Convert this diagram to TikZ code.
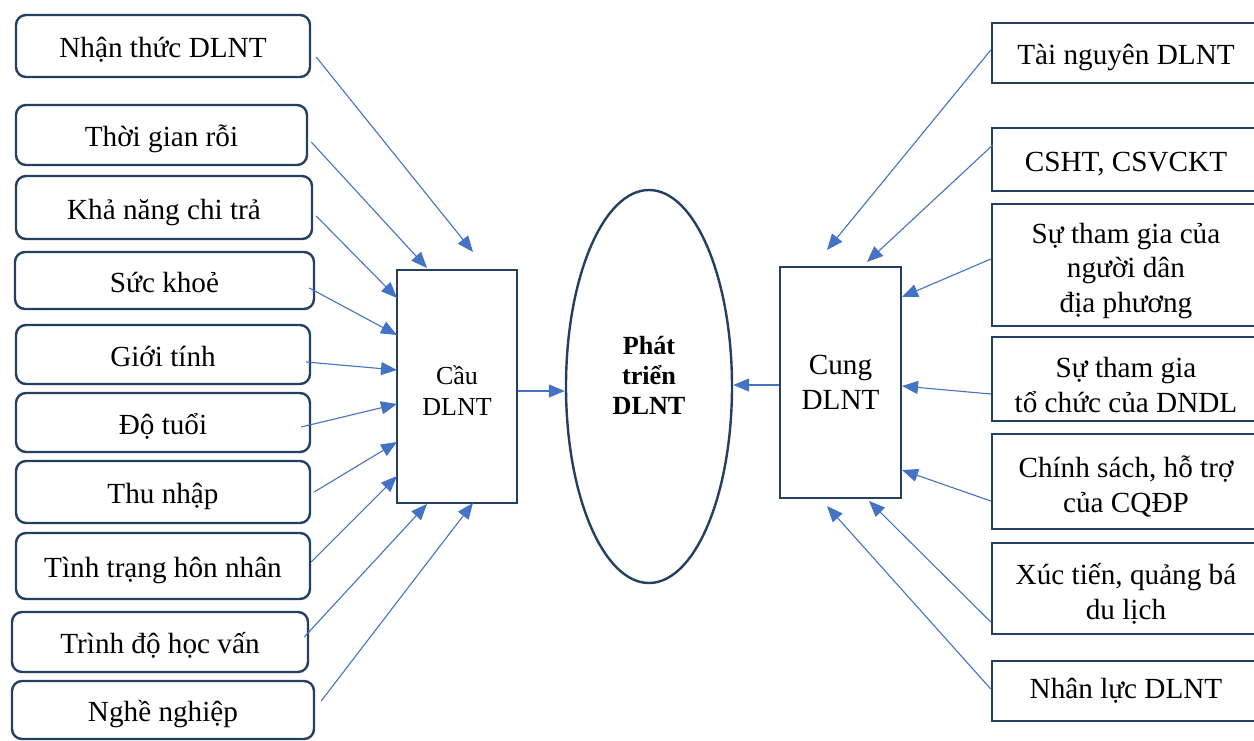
\documentclass[tikz,border=0pt]{standalone}
\usepackage{fontspec}
\setmainfont{LiberationSerif}[Extension=.ttf,UprightFont=*-Regular,BoldFont=*-Bold,ItalicFont=*-Italic,BoldItalicFont=*-BoldItalic]
\usetikzlibrary{arrows.meta,shapes.geometric,calc}
\definecolor{navy}{HTML}{243F60}
\definecolor{arr}{HTML}{4472C4}
\newcommand{\firstup}{\rule{0pt}{16pt}}
\begin{document}
\begin{tikzpicture}[x=0.5pt,y=-0.5pt,
  lbox/.style={draw=navy,line width=1.2pt,rounded corners=5pt,inner sep=0pt,font=\fontsize{14.6}{17.3}\selectfont,align=center,text height=12pt,text depth=0.5pt},
  rbox/.style={draw=navy,line width=1.2pt,inner sep=0pt,font=\fontsize{14.6}{17.3}\selectfont,align=center,minimum width=134pt},
  oneline/.style={text height=12pt,text depth=0.5pt},
  cbox/.style={draw=navy,line width=1.2pt,inner sep=0pt,align=center},
  conn/.style={draw=arr,line width=0.55pt,-{Triangle[length=8pt,width=6.5pt]}}]
\useasboundingbox (0,0) rectangle (1254,740);
\clip (0,0) rectangle (1254,740);
\fill[white] (0,0) rectangle (1254,740);

% left boxes
\node[lbox,minimum width=147pt,minimum height=31pt] (L1) at (163,46) {Nhận thức DLNT};
\node[lbox,minimum width=145.5pt,minimum height=30pt] (L2) at (161.5,135) {Thời gian rỗi};
\node[lbox,minimum width=148pt,minimum height=31.5pt] (L3) at (164,207.5) {Khả năng chi trả};
\node[lbox,minimum width=149.5pt,minimum height=28.5pt] (L4) at (164.5,280.5) {Sức khoẻ};
\node[lbox,minimum width=147pt,minimum height=29.5pt] (L5) at (163,354.5) {Giới tính};
\node[lbox,minimum width=147pt,minimum height=29.5pt] (L6) at (163,422.5) {Độ tuổi};
\node[lbox,minimum width=147pt,minimum height=31pt] (L7) at (163,492) {Thu nhập};
\node[lbox,minimum width=147pt,minimum height=33pt] (L8) at (163,566) {Tình trạng hôn nhân};
\node[lbox,minimum width=148pt,minimum height=30pt] (L9) at (160,642) {Trình độ học vấn};
\node[lbox,minimum width=151pt,minimum height=29pt] (L10) at (163,710) {Nghề nghiệp};

% right boxes
\node[rbox,oneline,minimum height=30pt] (R1) at (1126,53) {Tài nguyên DLNT};
\node[rbox,oneline,minimum height=31.5pt] (R2) at (1126,159.5) {CSHT, CSVCKT};
\node[rbox,minimum height=61pt] (R3) at (1126,265) {\firstup Sự tham gia của\\người dân\\địa phương};
\node[rbox,minimum height=42pt] (R4) at (1126,379) {\firstup Sự tham gia\\tổ chức của DNDL};
\node[rbox,minimum height=47.5pt] (R5) at (1126,481.5) {\firstup Chính sách, hỗ trợ\\của CQĐP};
\node[rbox,minimum height=45.5pt] (R6) at (1126,588.5) {\firstup Xúc tiến, quảng bá\\du lịch};
\node[rbox,minimum height=30pt] (R7) at (1126,691) {Nhân lực DLNT};

% centre
\node[cbox,minimum width=60pt,minimum height=116.5pt,font=\fontsize{13}{15.5}\selectfont] (cau) at (457,386.5) {\rule{0pt}{14pt}Cầu\\DLNT};
\node[cbox,minimum width=60.5pt,minimum height=115.5pt,font=\fontsize{14.6}{17.5}\selectfont] (cung) at (840.5,382.5) {Cung\\DLNT};
\node[draw=navy,line width=1.2pt,ellipse,inner sep=0pt,minimum width=83pt,minimum height=196.5pt] (dev) at (649,386.5) {};
\node[align=center,inner sep=0pt,font=\bfseries\fontsize{13.1}{15}\selectfont] (devtext) at (649,375) {Phát\\triển\\DLNT};

% tip coordinates near Cau
\coordinate (c1) at (473,252);
\coordinate (c2) at (427,268);
\coordinate (c3) at (397,298);
\coordinate (c4) at (397,335);
\coordinate (c5) at (397,370);
\coordinate (c6) at (397,404);
\coordinate (c7) at (397,442);
\coordinate (c8) at (397,476);
\coordinate (c9) at (427,504);
\coordinate (c10) at (473,503);
% tip coordinates near Cung
\coordinate (s1) at (827,250);
\coordinate (s2) at (867,262);
\coordinate (s3) at (902,297);
\coordinate (s4) at (902,386);
\coordinate (s5) at (902,470);
\coordinate (s6) at (869,501);
\coordinate (s7) at (827,506);

\draw[conn] ($(L1.east)+(5,11)$) -- (c1);
\draw[conn] ($(L2.east)+(3,7)$) -- (c2);
\draw[conn] ($(L3.east)+(3,8.5)$) -- (c3);
\draw[conn] ($(L4.east)+(-6,7.5)$) -- (c4);
\draw[conn] ($(L5.east)+(-5,7.5)$) -- (c5);
\draw[conn] ($(L6.east)+(-10,4.5)$) -- (c6);
\draw[conn] ($(L7.east)+(3,0)$) -- (c7);
\draw[conn] ($(L8.east)+(0,-4)$) -- (c8);
\draw[conn] ($(L9.east)+(-5,-5)$) -- (c9);
\draw[conn] ($(L10.east)+(6,-9)$) -- (c10);

\draw[conn] ($(R1.west)+(0,-3)$) -- (s1);
\draw[conn] ($(R2.west)+(2,-14.5)$) -- (s2);
\draw[conn] ($(R3.west)+(0,-6)$) -- (s3);
\draw[conn] ($(R4.west)+(0,15)$) -- (s4);
\draw[conn] ($(R5.west)+(0,19.5)$) -- (s5);
\draw[conn] ($(R6.west)+(0,33.5)$) -- (s6);
\draw[conn] ($(R7.west)+(0,-2)$) -- (s7);

\draw[conn] ($(cau.east)+(0,4.5)$) -- ($(dev.west)+(0,4.5)$);
\draw[conn] ($(cung.west)+(0,2.5)$) -- ($(dev.east)+(0,-1.5)$);
\end{tikzpicture}
\end{document}
